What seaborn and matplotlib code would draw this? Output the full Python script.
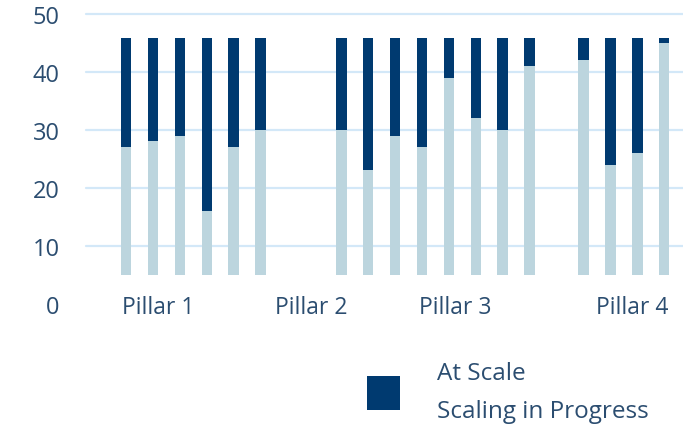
import numpy as np
import pandas as pd
import matplotlib
matplotlib.use("Agg")
import matplotlib.pyplot as plt
from matplotlib.patches import Patch
import seaborn as sns

# ---- data ----
positions = [0, 1, 2, 3, 4, 5, 8, 9, 10, 11, 12, 13, 14, 15, 17, 18, 19, 20]
at_scale = [27, 28, 29, 16, 27, 30, 30, 23, 29, 27, 39, 32, 30, 41, 42, 24, 26, 45]
bar_top = [45.8] * len(positions)
bar_base = 5
group_labels = ["Pillar 1", "Pillar 2", "Pillar 3", "Pillar 4"]
group_label_pos = [1.2, 6.9, 12.25, 18.8]
y_ticks = [0, 10, 20, 30, 40, 50]
legend_labels = ["At Scale", "Scaling in Progress"]

DARK = "#003a70"
LIGHT = "#bcd5de"
GRID = "#d3e8f8"
TEXT = "#2b4d70"

sns.set_theme(style="white")
plt.rcParams["font.family"] = ["Open Sans", "DejaVu Sans"]

df = pd.DataFrame({"pos": positions, "top": bar_top, "scale": at_scale})

fig = plt.figure(figsize=(6.83, 4.31), dpi=100)
ax = fig.add_axes([86 / 683, (431 - 304.6) / 431, 597 / 683, (304.6 - 15) / 431])

sns.barplot(data=df, x="pos", y="top", native_scale=True, width=0.39,
            color=DARK, saturation=1, ax=ax, zorder=3)
sns.barplot(data=df, x="pos", y="scale", native_scale=True, width=0.39,
            color=LIGHT, saturation=1, ax=ax, zorder=4)
for p in ax.patches:
    h = p.get_height()
    p.set_y(bar_base)
    p.set_height(h - bar_base)
    p.set_linewidth(0)

ax.set_xlim(-1.49, 20.7)
ax.set_ylim(0, 50)
for yv in y_ticks[1:]:
    ax.axhline(yv, color=GRID, lw=1.6, zorder=1, clip_on=False)

ax.set_yticks(y_ticks)
ax.set_yticklabels([str(v) for v in y_ticks], fontsize=17, color=TEXT)
ax.set_xticks(group_label_pos)
ax.set_xticklabels(group_labels, fontsize=16.5, color=TEXT)
ax.tick_params(axis="y", length=0, pad=19)
ax.tick_params(axis="x", length=0, pad=-6)
ax.set_xlabel("")
ax.set_ylabel("")
for s in ax.spines.values():
    s.set_visible(False)

leg = fig.legend(handles=[Patch(facecolor=DARK, edgecolor="none")],
                 labels=["\n".join(legend_labels)],
                 loc="center left", bbox_to_anchor=(355 / 683, 1 - 393 / 431),
                 frameon=False, fontsize=17.5, handlelength=1.36, handleheight=1.78,
                 handletextpad=1.52, borderpad=0)
for t in leg.get_texts():
    t.set_color(TEXT)
    t.set_linespacing(1.75)

fig.savefig("out.png", dpi=100)
